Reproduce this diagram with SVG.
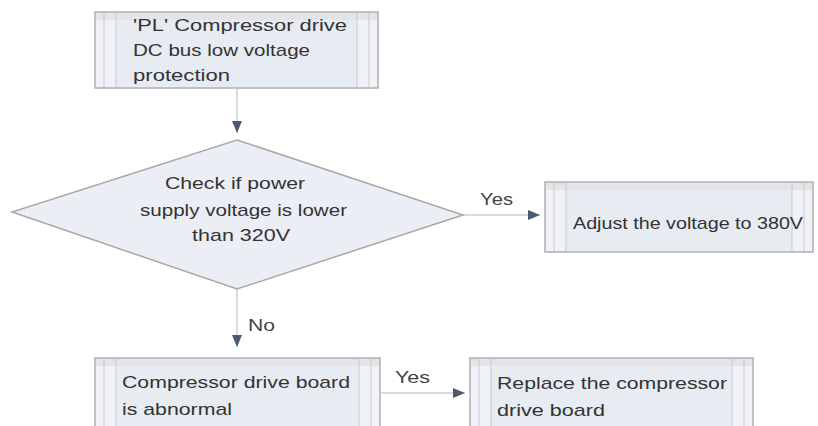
<svg xmlns="http://www.w3.org/2000/svg" width="818" height="426" viewBox="0 0 818 426">
<style>
.box{fill:#e7ecf3;stroke:#b0b0b0;stroke-width:1.5}
.strip{fill:#f0f2f7;stroke:none}
.sl{stroke:#c8cacf;stroke-width:1}
.band{fill:#e2e4e8;stroke:none}
.dia{fill:#eceef5;stroke:#a8a8a8;stroke-width:1.5}
.t{font-family:"Liberation Sans",Arial,sans-serif;font-size:17px;fill:#333}
.lbl{font-family:"Liberation Sans",Arial,sans-serif;font-size:17px;fill:#444}
.c{fill:none;stroke:#b4b8bf;stroke-width:1}
</style>
<defs>
<marker id="ah" viewBox="0 0 12 10" refX="12" refY="5" markerWidth="12" markerHeight="10" markerUnits="userSpaceOnUse" orient="auto">
<path d="M0,0 L12,5 L0,10 Z" fill="#4d5a6b"/>
</marker>
</defs>
<rect width="818" height="426" fill="#ffffff"/>
<g id="connectors">
<line class="c" x1="237" y1="89" x2="237" y2="133" marker-end="url(#ah)"/>
<line class="c" x1="463" y1="215" x2="540" y2="215" marker-end="url(#ah)"/>
<line class="c" x1="237" y1="289" x2="237" y2="347" marker-end="url(#ah)"/>
<line class="c" x1="381" y1="393" x2="465" y2="393" marker-end="url(#ah)"/>
<text class="lbl" x="480" y="205" textLength="33" lengthAdjust="spacingAndGlyphs">Yes</text>
<text class="lbl" x="248" y="331" textLength="27" lengthAdjust="spacingAndGlyphs">No</text>
<text class="lbl" x="395" y="383" textLength="35" lengthAdjust="spacingAndGlyphs">Yes</text>
</g>
<g id="n1">
<rect class="box" x="95" y="12" width="283" height="76"/>
<rect class="band" x="96" y="13" width="281" height="7"/>
<rect class="strip" x="96" y="20" width="20" height="67"/>
<rect class="strip" x="357" y="20" width="20" height="67"/>
<line class="sl" x1="104" y1="13" x2="104" y2="87"/>
<line class="sl" x1="116" y1="13" x2="116" y2="87"/>
<line class="sl" x1="357" y1="13" x2="357" y2="87"/>
<line class="sl" x1="369" y1="13" x2="369" y2="87"/>
<text class="t" x="133" y="31" textLength="214" lengthAdjust="spacingAndGlyphs">'PL' Compressor drive</text>
<text class="t" x="133" y="56" textLength="177" lengthAdjust="spacingAndGlyphs">DC bus low voltage</text>
<text class="t" x="133" y="81" textLength="97" lengthAdjust="spacingAndGlyphs">protection</text>
</g>
<g id="n2">
<polygon class="dia" points="237,140 463,215 237,289 12,212"/>
<text class="t" x="165" y="189" textLength="140" lengthAdjust="spacingAndGlyphs">Check if power</text>
<text class="t" x="140" y="216" textLength="207" lengthAdjust="spacingAndGlyphs">supply voltage is lower</text>
<text class="t" x="192" y="241" textLength="98" lengthAdjust="spacingAndGlyphs">than 320V</text>
</g>
<g id="n3">
<rect class="box" x="545" y="182" width="268" height="70"/>
<rect class="band" x="546" y="183" width="266" height="7"/>
<rect class="strip" x="546" y="190" width="20" height="61"/>
<rect class="strip" x="792" y="190" width="20" height="61"/>
<line class="sl" x1="554" y1="183" x2="554" y2="251"/>
<line class="sl" x1="566" y1="183" x2="566" y2="251"/>
<line class="sl" x1="792" y1="183" x2="792" y2="251"/>
<line class="sl" x1="804" y1="183" x2="804" y2="251"/>
<text class="t" x="573" y="229" textLength="230" lengthAdjust="spacingAndGlyphs">Adjust the voltage to 380V</text>
</g>
<g id="n4">
<rect class="box" x="95" y="358" width="285" height="80"/>
<rect class="band" x="96" y="359" width="283" height="7"/>
<rect class="strip" x="96" y="366" width="20" height="60"/>
<rect class="strip" x="359" y="366" width="20" height="60"/>
<line class="sl" x1="104" y1="359" x2="104" y2="426"/>
<line class="sl" x1="116" y1="359" x2="116" y2="426"/>
<line class="sl" x1="359" y1="359" x2="359" y2="426"/>
<line class="sl" x1="371" y1="359" x2="371" y2="426"/>
<text class="t" x="122" y="388" textLength="228" lengthAdjust="spacingAndGlyphs">Compressor drive board</text>
<text class="t" x="122" y="415" textLength="110" lengthAdjust="spacingAndGlyphs">is abnormal</text>
</g>
<g id="n5">
<rect class="box" x="470" y="358" width="283" height="80"/>
<rect class="band" x="471" y="359" width="281" height="7"/>
<rect class="strip" x="471" y="366" width="20" height="60"/>
<rect class="strip" x="732" y="366" width="20" height="60"/>
<line class="sl" x1="479" y1="359" x2="479" y2="426"/>
<line class="sl" x1="491" y1="359" x2="491" y2="426"/>
<line class="sl" x1="732" y1="359" x2="732" y2="426"/>
<line class="sl" x1="744" y1="359" x2="744" y2="426"/>
<text class="t" x="497" y="389" textLength="230" lengthAdjust="spacingAndGlyphs">Replace the compressor</text>
<text class="t" x="497" y="416" textLength="108" lengthAdjust="spacingAndGlyphs">drive board</text>
</g>
</svg>
